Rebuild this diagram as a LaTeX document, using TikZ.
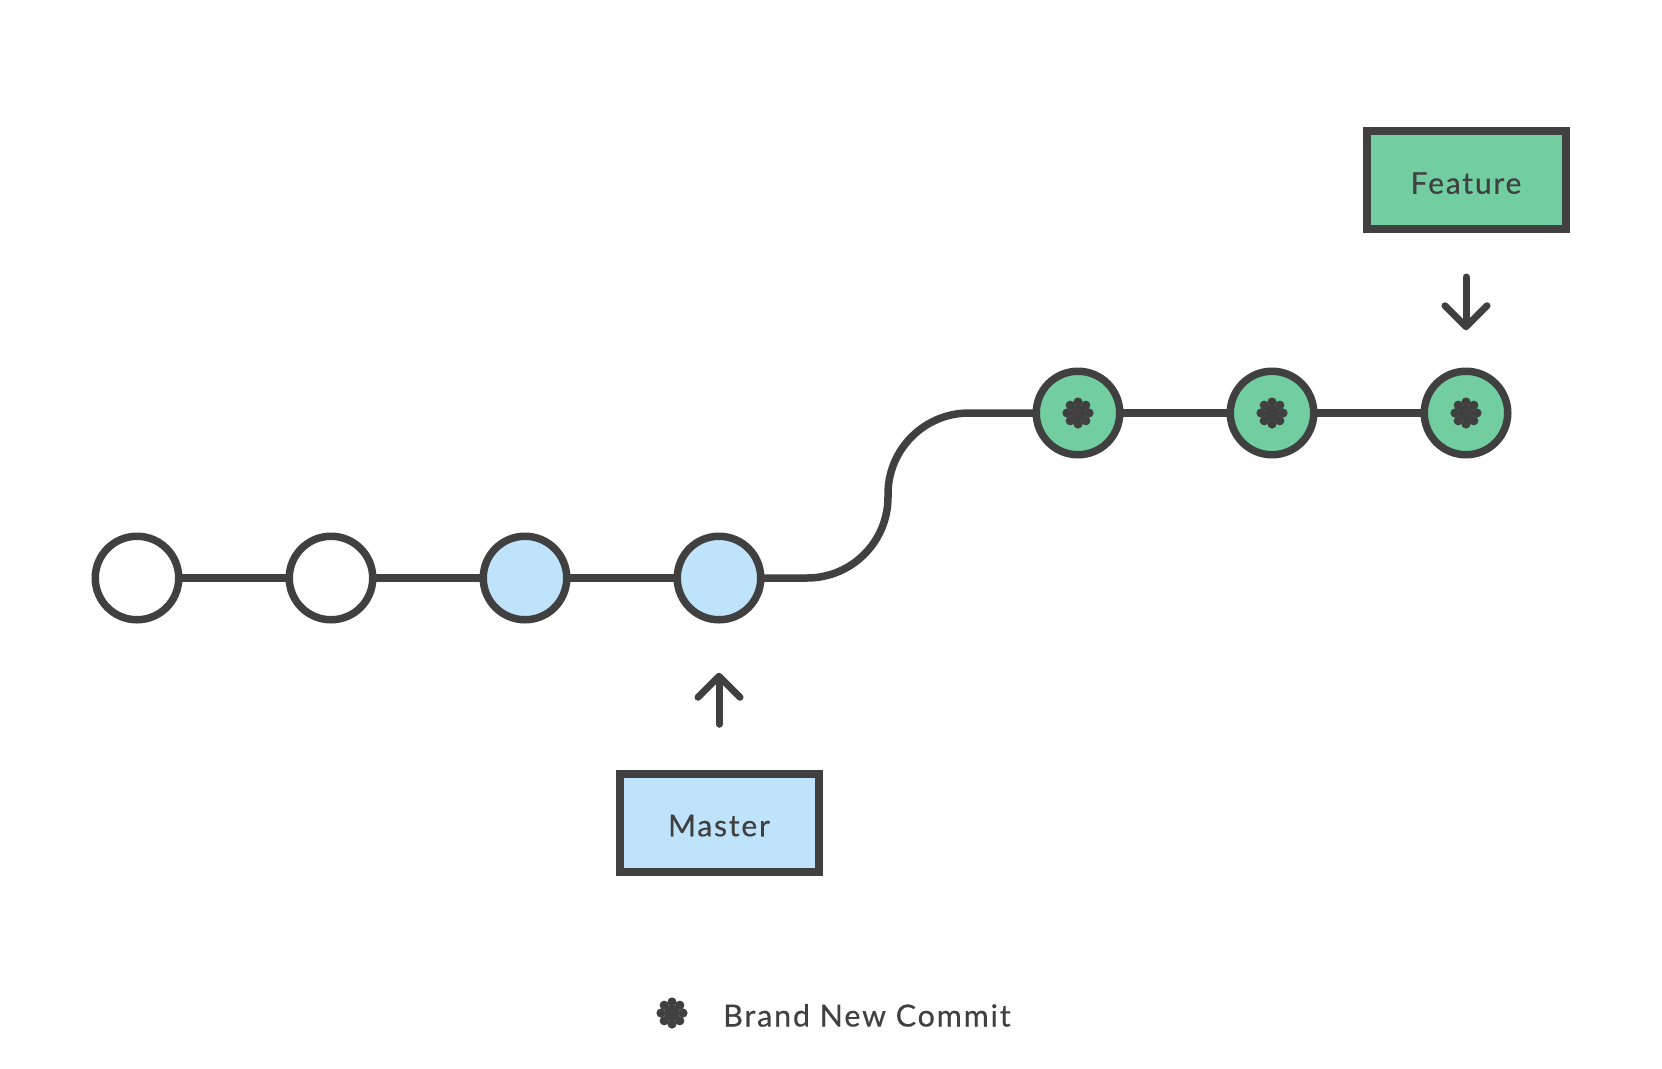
\documentclass[tikz,border=0pt]{standalone}
\usepackage{fontspec}
\setmainfont[LetterSpace=6, FakeBold=0.4]{Lato}
\usetikzlibrary{positioning,calc,arrows.meta}

\definecolor{ink}{HTML}{404040}
\definecolor{masterblue}{HTML}{BFE3FB}
\definecolor{featuregreen}{HTML}{72CEA1}

\tikzset{flower/.pic={
        \fill[ink] (0,0) circle (8pt);
        \foreach \a in {0,45,...,315}
            \fill[ink] (\a:11pt) circle (4.6pt);
    }}

\begin{document}
\begin{tikzpicture}[x=1pt, y=-1pt,
        commit/.style={circle, draw=ink, line width=7.5pt, fill=white, minimum size=83.5pt, inner sep=0pt, outer sep=0pt},
        tagtext/.style={text=ink, text height=27pt, text depth=0pt, font=\fontsize{30}{36}\selectfont},
        branch/.style={tagtext, rectangle, draw=ink, line width=8pt, minimum width=199pt, minimum height=98pt, inner sep=0pt, outer sep=0pt},
        edge/.style={draw=ink, line width=7.5pt},
        pointer/.style={draw=ink, line width=7pt, line cap=round, -{Straight Barb[round, length=21pt, width=42pt]}},
        node distance=110.5pt]
    \useasboundingbox (0,0) rectangle (1662,1068);
    % old commits
    \node[commit] (c1) at (137,578) {};
    \node[commit] (c2) [right=of c1] {};
    \node[commit, fill=masterblue] (c3) [right=of c2] {};
    \node[commit, fill=masterblue] (c4) [right=of c3] {};
    % new commits on the feature branch
    \node[commit, fill=featuregreen] (c5) at (1078,413) {};
    \node[commit, fill=featuregreen] (c6) [right=of c5] {};
    \node[commit, fill=featuregreen] (c7) [right=of c6] {};
    \foreach \n in {c5,c6,c7}
        \pic at (\n) {flower};
    \foreach \a/\b in {c1/c2,c2/c3,c3/c4,c5/c6,c6/c7}
        \draw[edge] (\a) -- (\b);
    \coordinate (bend) at (888,0);
    \draw[edge, rounded corners=81pt] (c4) -- (c4 -| bend) -- (c5 -| bend) -- (c5);
    % branch labels
    \node[branch, fill=masterblue] (master) [below=154pt of c4] {Master};
    \node[branch, fill=featuregreen] (feature) [above=142pt of c7] {Feature};
    \draw[pointer, shorten <=49.5pt, shorten >=53pt] (master) -- (c4);
    \draw[pointer, shorten <=47.75pt, shorten >=41pt] (feature) -- (c7);
    % legend
    \coordinate (key) at (672,1013);
    \pic at (key) {flower};
    \node[tagtext, right=51pt of key, inner sep=0pt, font=\fontsize{30.5}{36}\selectfont] (keytext) {Brand New Commit};
\end{tikzpicture}
\end{document}
